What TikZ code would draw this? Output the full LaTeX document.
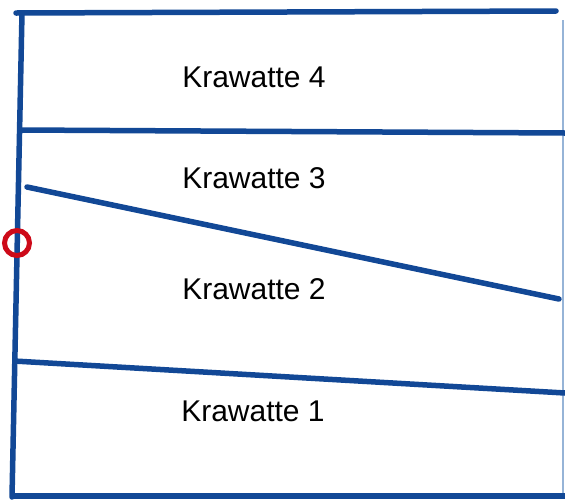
\documentclass[tikz,border=0pt]{standalone}
\usepackage{fontspec}
\setmainfont{Liberation Sans}
\definecolor{lineblue}{RGB}{18,72,150}
\definecolor{edgeblue}{RGB}{150,180,215}
\definecolor{markred}{RGB}{205,10,25}
\tikzset{
  rule/.style={draw=lineblue, line width=5.5pt, line cap=round},
  label/.style={font=\fontsize{30}{33}\selectfont},
}
\begin{document}
\begin{tikzpicture}[x=1pt, y=-1pt]
    \useasboundingbox (0,0) rectangle (565,499);
    \fill[white] (0,0) rectangle (565,499);
    \draw[edgeblue, line width=1.5pt] (563,20) -- (563,499);
    \draw[rule] (16,13) -- (556,11);
    \draw[rule] (22,13) -- (12,497);
    \draw[rule, line cap=butt] (12,496) -- (565,496);
    \draw[rule, line cap=butt] (20,130) -- (565,133);
    \draw[rule] (27,187) -- (559,299);
    \draw[rule, line cap=butt] (14,361) -- (565,393);
    \draw[markred, line width=5pt] (17,243) circle (12.5);
    \node[label] (k4) at (254,77) {Krawatte 4};
    \node[label] (k3) at (254,178) {Krawatte 3};
    \node[label] (k2) at (254,289) {Krawatte 2};
    \node[label] (k1) at (253,411) {Krawatte 1};
\end{tikzpicture}
\end{document}
